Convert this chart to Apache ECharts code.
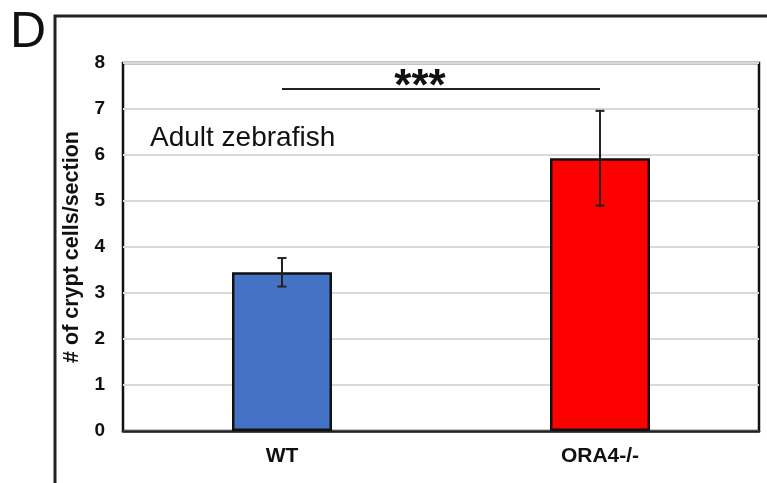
<!DOCTYPE html>
<html>
<head>
<meta charset="utf-8">
<script src="https://cdn.jsdelivr.net/npm/echarts@6/dist/echarts.min.js"></script>
<style>
  html, body { margin: 0; padding: 0; background: #fff; }
  #chart { width: 767px; height: 483px; }
</style>
</head>
<body>
<div id="chart"></div>
<script>
// Crypt cell counts per section (mean ± error)
const categories = ['WT', 'ORA4-/-'];
const meanValues = [3.45, 5.93];
const errorValues = [0.31, 1.03];
const barColors = ['#4472C4', '#FF0000'];
const yTicks = { min: 0, max: 8, interval: 1 };
const significanceLevel = 7.45;
const significanceText = '***';
const panelLetter = 'D';
const annotation = 'Adult zebrafish';
const yAxisTitle = '# of crypt cells/section';

const FONT = '"Liberation Sans", Arial, Helvetica, sans-serif';

const chart = echarts.init(document.getElementById('chart'), null, { renderer: 'canvas' });

const option = {
  animation: false,
  backgroundColor: '#ffffff',
  grid: {
    left: 123, top: 63, right: 8, bottom: 52,
    show: true, borderColor: '#111', borderWidth: 2.5, backgroundColor: 'transparent'
  },
  xAxis: {
    type: 'category',
    data: categories,
    axisLine: { show: true, lineStyle: { color: '#222', width: 2.5 } },
    axisTick: { show: false },
    axisLabel: { color: '#111', fontFamily: FONT, fontWeight: 'bold', fontSize: 21, margin: 15 }
  },
  yAxis: {
    type: 'value',
    min: yTicks.min, max: yTicks.max, interval: yTicks.interval,
    name: yAxisTitle,
    nameLocation: 'middle',
    nameGap: 39,
    nameRotate: 90,
    nameTextStyle: { color: '#111', fontFamily: FONT, fontWeight: 'bold', fontSize: 21.5 },
    axisLine: { show: false },
    axisTick: { show: false },
    splitLine: { show: true, lineStyle: { color: '#d9d9d9', width: 2 } },
    axisLabel: { color: '#111', fontFamily: FONT, fontWeight: 'bold', fontSize: 19, margin: 18 }
  },
  graphic: [
    {
      type: 'rect', z: 100,
      shape: { x: 55, y: 16, width: 800, height: 600 },
      style: { fill: 'none', stroke: '#222', lineWidth: 3 }
    },
    {
      type: 'text', z: 100, left: 10, top: 8,
      style: { text: panelLetter, font: '50px ' + FONT, fill: '#111' }
    },
    {
      type: 'text', z: 100, x: 150, y: 138,
      style: { text: annotation, font: '28px ' + FONT, fill: '#111', textVerticalAlign: 'middle' }
    }
  ],
  series: [
    {
      type: 'bar',
      barWidth: 100,
      data: meanValues.map((v, i) => ({
        value: v,
        itemStyle: { color: barColors[i], borderColor: '#111', borderWidth: 2.5 }
      })),
      markLine: {
        silent: true,
        symbol: 'none',
        lineStyle: { color: '#222', width: 2, type: 'solid' },
        label: {
          show: true, position: 'middle', formatter: significanceText,
          color: '#111', fontFamily: FONT, fontWeight: 'bold', fontSize: 44,
          lineHeight: 44, distance: -22, offset: [-21, 0]
        },
        data: [[
          { coord: [categories[0], significanceLevel] },
          { coord: [categories[1], significanceLevel] }
        ]]
      },
      z: 2
    },
    {
      type: 'custom',
      z: 5,
      data: meanValues.map((v, i) => [i, v - errorValues[i], v + errorValues[i]]),
      renderItem: function (params, api) {
        const lo = api.coord([api.value(0), api.value(1)]);
        const hi = api.coord([api.value(0), api.value(2)]);
        const cap = 4.5;
        const style = { stroke: '#222', lineWidth: 2, fill: 'none' };
        return {
          type: 'group',
          children: [
            { type: 'line', shape: { x1: hi[0], y1: hi[1], x2: lo[0], y2: lo[1] }, style },
            { type: 'line', shape: { x1: hi[0] - cap, y1: hi[1], x2: hi[0] + cap, y2: hi[1] }, style },
            { type: 'line', shape: { x1: lo[0] - cap, y1: lo[1], x2: lo[0] + cap, y2: lo[1] }, style }
          ]
        };
      }
    }
  ]
};

chart.setOption(option);
</script>
</body>
</html>
